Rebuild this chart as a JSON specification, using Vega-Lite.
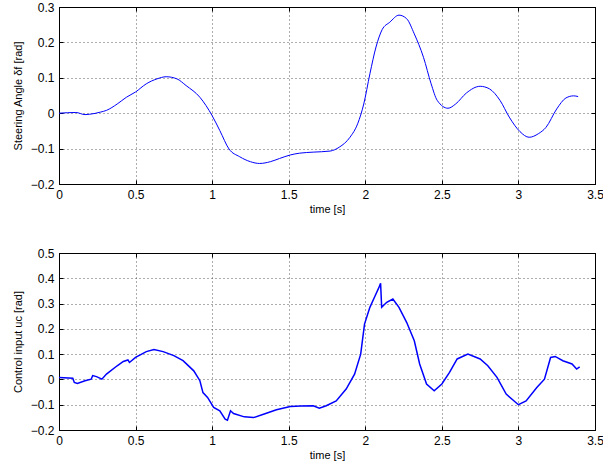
{
  "$schema": "https://vega.github.io/schema/vega-lite/v6.json",
  "padding": {"left": 11, "top": 0, "right": 5, "bottom": 5},
  "background": "white",
  "config": {
    "font": "Liberation Sans",
    "view": {"stroke": "black", "strokeWidth": 1},
    "axis": {
      "labelFont": "Liberation Sans",
      "labelFontSize": 12,
      "labelColor": "black",
      "titleFont": "Liberation Sans",
      "titleFontSize": 11,
      "titleFontWeight": "normal",
      "titleColor": "black",
      "domainColor": "black",
      "tickColor": "black",
      "tickSize": -4,
      "labelPadding": 9,
      "grid": true,
      "gridColor": "#333333",
      "gridDash": [1, 3],
      "gridOpacity": 0.8,
      "labelFlush": false
    }
  },
  "datasets": {
    "top": [
      {"t": 0, "v": 0}, {"t": 0.11, "v": 0.002}, {"t": 0.17, "v": -0.004}, {"t": 0.2, "v": -0.003},
      {"t": 0.27, "v": 0.003}, {"t": 0.31, "v": 0.008}, {"t": 0.38, "v": 0.026}, {"t": 0.44, "v": 0.045},
      {"t": 0.5, "v": 0.06}, {"t": 0.57, "v": 0.083}, {"t": 0.64, "v": 0.097}, {"t": 0.7, "v": 0.103},
      {"t": 0.77, "v": 0.097}, {"t": 0.83, "v": 0.078}, {"t": 0.92, "v": 0.045}, {"t": 1.0, "v": -0.007},
      {"t": 1.05, "v": -0.049}, {"t": 1.11, "v": -0.101}, {"t": 1.18, "v": -0.123}, {"t": 1.25, "v": -0.137},
      {"t": 1.31, "v": -0.142}, {"t": 1.38, "v": -0.137}, {"t": 1.44, "v": -0.128}, {"t": 1.51, "v": -0.118},
      {"t": 1.57, "v": -0.113}, {"t": 1.66, "v": -0.11}, {"t": 1.77, "v": -0.107}, {"t": 1.83, "v": -0.096},
      {"t": 1.9, "v": -0.068}, {"t": 1.95, "v": -0.03}, {"t": 1.99, "v": 0.026}, {"t": 2.03, "v": 0.111},
      {"t": 2.07, "v": 0.187}, {"t": 2.11, "v": 0.236}, {"t": 2.16, "v": 0.257}, {"t": 2.22, "v": 0.277},
      {"t": 2.27, "v": 0.267}, {"t": 2.32, "v": 0.224}, {"t": 2.38, "v": 0.158}, {"t": 2.43, "v": 0.083},
      {"t": 2.47, "v": 0.036}, {"t": 2.54, "v": 0.014}, {"t": 2.59, "v": 0.026}, {"t": 2.66, "v": 0.057},
      {"t": 2.75, "v": 0.076}, {"t": 2.81, "v": 0.069}, {"t": 2.88, "v": 0.036}, {"t": 2.94, "v": -0.011},
      {"t": 3.01, "v": -0.052}, {"t": 3.07, "v": -0.068}, {"t": 3.13, "v": -0.058}, {"t": 3.18, "v": -0.04},
      {"t": 3.25, "v": 0.012}, {"t": 3.31, "v": 0.043}, {"t": 3.36, "v": 0.049}, {"t": 3.39, "v": 0.047}
    ],
    "bottom": [
      {"t": 0, "v": 0.008}, {"t": 0.09, "v": 0.005}, {"t": 0.1, "v": -0.012}, {"t": 0.12, "v": -0.016},
      {"t": 0.17, "v": -0.005}, {"t": 0.21, "v": 0.001}, {"t": 0.22, "v": 0.015}, {"t": 0.245, "v": 0.011},
      {"t": 0.28, "v": 0.001}, {"t": 0.31, "v": 0.021}, {"t": 0.38, "v": 0.054}, {"t": 0.42, "v": 0.071},
      {"t": 0.45, "v": 0.077}, {"t": 0.46, "v": 0.067}, {"t": 0.5, "v": 0.087}, {"t": 0.57, "v": 0.11},
      {"t": 0.62, "v": 0.118}, {"t": 0.68, "v": 0.11}, {"t": 0.75, "v": 0.094}, {"t": 0.81, "v": 0.074},
      {"t": 0.88, "v": 0.034}, {"t": 0.92, "v": -0.005}, {"t": 0.94, "v": -0.052}, {"t": 0.97, "v": -0.071},
      {"t": 1.01, "v": -0.111}, {"t": 1.05, "v": -0.124}, {"t": 1.085, "v": -0.157}, {"t": 1.1, "v": -0.161},
      {"t": 1.12, "v": -0.124}, {"t": 1.14, "v": -0.135}, {"t": 1.21, "v": -0.148}, {"t": 1.27, "v": -0.151},
      {"t": 1.34, "v": -0.137}, {"t": 1.42, "v": -0.12}, {"t": 1.51, "v": -0.107}, {"t": 1.58, "v": -0.105},
      {"t": 1.66, "v": -0.104}, {"t": 1.7, "v": -0.114}, {"t": 1.745, "v": -0.104}, {"t": 1.81, "v": -0.085},
      {"t": 1.875, "v": -0.038}, {"t": 1.93, "v": 0.021}, {"t": 1.97, "v": 0.1}, {"t": 1.995, "v": 0.219},
      {"t": 2.03, "v": 0.285}, {"t": 2.06, "v": 0.325}, {"t": 2.09, "v": 0.365}, {"t": 2.1, "v": 0.38},
      {"t": 2.107, "v": 0.285}, {"t": 2.14, "v": 0.305}, {"t": 2.18, "v": 0.318}, {"t": 2.22, "v": 0.285},
      {"t": 2.27, "v": 0.226}, {"t": 2.32, "v": 0.153}, {"t": 2.355, "v": 0.061}, {"t": 2.4, "v": -0.018},
      {"t": 2.45, "v": -0.045}, {"t": 2.5, "v": -0.018}, {"t": 2.55, "v": 0.028}, {"t": 2.6, "v": 0.081},
      {"t": 2.67, "v": 0.1}, {"t": 2.75, "v": 0.081}, {"t": 2.8, "v": 0.054}, {"t": 2.86, "v": 0.008},
      {"t": 2.92, "v": -0.058}, {"t": 3.0, "v": -0.1}, {"t": 3.05, "v": -0.085}, {"t": 3.12, "v": -0.032},
      {"t": 3.17, "v": 0.001}, {"t": 3.21, "v": 0.087}, {"t": 3.24, "v": 0.091}, {"t": 3.29, "v": 0.074},
      {"t": 3.35, "v": 0.061}, {"t": 3.38, "v": 0.041}, {"t": 3.4, "v": 0.05}
    ]
  },
  "vconcat": [
    {
      "width": 536,
      "height": 177,
      "data": {"name": "top"},
      "resolve": {"axis": {"x": "independent", "y": "independent"}},
      "layer": [
        {
          "mark": {"type": "line", "color": "#0000ff", "strokeWidth": 1, "interpolate": "monotone"},
          "encoding": {
            "x": {"field": "t", "type": "quantitative", "title": "time [s]",
                  "scale": {"domain": [0, 3.5], "nice": false},
                  "axis": {"values": [0, 0.5, 1, 1.5, 2, 2.5, 3, 3.5], "format": "~g", "titlePadding": 3}},
            "y": {"field": "v", "type": "quantitative", "title": "Steering Angle δf [rad]",
                  "scale": {"domain": [-0.2, 0.3], "nice": false},
                  "axis": {"values": [-0.2, -0.1, 0, 0.1, 0.2, 0.3], "format": "~g", "titlePadding": 7}}
          }
        },
        {
          "mark": {"type": "line", "opacity": 0},
          "encoding": {
            "x": {"field": "t", "type": "quantitative",
                  "axis": {"orient": "top", "values": [0, 0.5, 1, 1.5, 2, 2.5, 3, 3.5], "labels": false, "grid": false, "title": null}},
            "y": {"field": "v", "type": "quantitative",
                  "axis": {"orient": "right", "values": [-0.2, -0.1, 0, 0.1, 0.2, 0.3], "labels": false, "grid": false, "title": null}}
          }
        }
      ]
    },
    {
      "width": 536,
      "height": 177,
      "data": {"name": "bottom"},
      "resolve": {"axis": {"x": "independent", "y": "independent"}},
      "layer": [
        {
          "mark": {"type": "line", "color": "#0000ff", "strokeWidth": 1.5},
          "encoding": {
            "x": {"field": "t", "type": "quantitative", "title": "time [s]",
                  "scale": {"domain": [0, 3.5], "nice": false},
                  "axis": {"values": [0, 0.5, 1, 1.5, 2, 2.5, 3, 3.5], "format": "~g", "titlePadding": 3}},
            "y": {"field": "v", "type": "quantitative", "title": "Control input uc [rad]",
                  "scale": {"domain": [-0.2, 0.5], "nice": false},
                  "axis": {"values": [-0.2, -0.1, 0, 0.1, 0.2, 0.3, 0.4, 0.5], "format": "~g", "titlePadding": 7}}
          }
        },
        {
          "mark": {"type": "line", "opacity": 0},
          "encoding": {
            "x": {"field": "t", "type": "quantitative",
                  "axis": {"orient": "top", "values": [0, 0.5, 1, 1.5, 2, 2.5, 3, 3.5], "labels": false, "grid": false, "title": null}},
            "y": {"field": "v", "type": "quantitative",
                  "axis": {"orient": "right", "values": [-0.2, -0.1, 0, 0.1, 0.2, 0.3, 0.4, 0.5], "labels": false, "grid": false, "title": null}}
          }
        }
      ]
    }
  ],
  "spacing": 69,
  "bounds": "flush"
}
